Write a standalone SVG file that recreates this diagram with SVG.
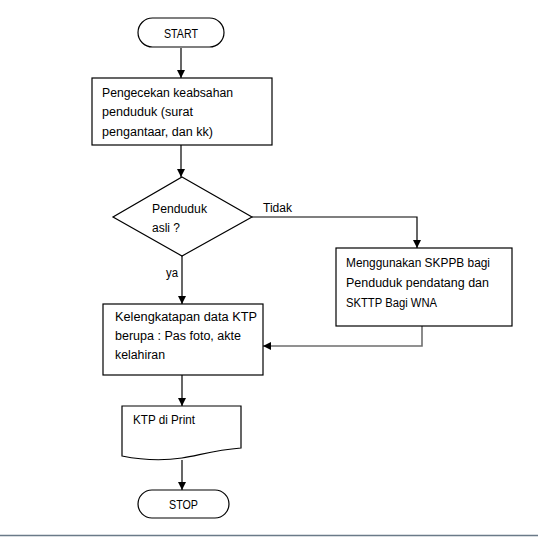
<svg xmlns="http://www.w3.org/2000/svg" width="538" height="538" viewBox="0 0 538 538">
<defs>
<style>
.shape{fill:#fff;stroke:#000;stroke-width:1.2}
.conn{fill:none;stroke:#000;stroke-width:1.2}
.gray{stroke:#6e6e6e;stroke-width:1.6}
text{font-family:"Liberation Sans",Arial,sans-serif;font-size:12.5px;fill:#000}
</style>
<marker id="ah" viewBox="0 0 10 10" refX="10" refY="5" markerWidth="8" markerHeight="8" markerUnits="userSpaceOnUse" orient="auto">
<path d="M0,0 L10,5 L0,10 Z" fill="#000"/>
</marker>
</defs>
<rect width="538" height="538" fill="#fff"/>
<line x1="0" y1="535.5" x2="538" y2="535.5" stroke="#6a7a88" stroke-width="1.5"/>
<g id="connectors">
<line class="conn" x1="181" y1="48" x2="181" y2="78" marker-end="url(#ah)"/>
<line class="conn" x1="181" y1="145" x2="181" y2="177" marker-end="url(#ah)"/>
<polyline class="conn" points="252,217 417,217 417,248" marker-end="url(#ah)"/>
<line class="conn" x1="182" y1="256" x2="182" y2="304" marker-end="url(#ah)"/>
<polyline class="conn gray" points="422,326 422,346 263,346" marker-end="url(#ah)"/>
<line class="conn" x1="182" y1="375" x2="182" y2="406" marker-end="url(#ah)"/>
<line class="conn" x1="182" y1="460" x2="182" y2="490" marker-end="url(#ah)"/>
<text x="263" y="212" textLength="29" lengthAdjust="spacingAndGlyphs">Tidak</text>
<text x="166" y="277" textLength="12" lengthAdjust="spacingAndGlyphs">ya</text>
</g>
<g id="start">
<rect class="shape" x="138" y="18" width="86" height="29" rx="14.5"/>
<text x="181" y="37.5" text-anchor="middle" textLength="34" lengthAdjust="spacingAndGlyphs">START</text>
</g>
<g id="cek">
<rect class="shape" x="92" y="78" width="180" height="67"/>
<text x="102" y="97" textLength="131" lengthAdjust="spacingAndGlyphs">Pengecekan keabsahan</text>
<text x="102" y="116" textLength="91" lengthAdjust="spacingAndGlyphs">penduduk (surat</text>
<text x="102" y="136" textLength="111" lengthAdjust="spacingAndGlyphs">pengantaar, dan kk)</text>
</g>
<g id="decision">
<polygon class="shape" points="182,177 252,217 182,256 113,217"/>
<text x="152" y="213" textLength="55" lengthAdjust="spacingAndGlyphs">Penduduk</text>
<text x="152" y="232" textLength="28" lengthAdjust="spacingAndGlyphs">asli ?</text>
</g>
<g id="skppb">
<rect class="shape" x="336" y="248" width="176" height="78"/>
<text x="346" y="267" textLength="144" lengthAdjust="spacingAndGlyphs">Menggunakan SKPPB bagi</text>
<text x="346" y="287" textLength="143" lengthAdjust="spacingAndGlyphs">Penduduk pendatang dan</text>
<text x="346" y="307" textLength="91" lengthAdjust="spacingAndGlyphs">SKTTP Bagi WNA</text>
</g>
<g id="kelengkapan">
<rect class="shape" x="103" y="304" width="160" height="71"/>
<text x="115" y="321" textLength="142" lengthAdjust="spacingAndGlyphs">Kelengkatapan data KTP</text>
<text x="115" y="340" textLength="126" lengthAdjust="spacingAndGlyphs">berupa : Pas foto, akte</text>
<text x="115" y="359" textLength="50" lengthAdjust="spacingAndGlyphs">kelahiran</text>
</g>
<g id="print">
<path class="shape" d="M122,406 H241 V448 C215,450 200,455 182,458 C162,461 142,460 122,456 Z"/>
<text x="133" y="424" textLength="62" lengthAdjust="spacingAndGlyphs">KTP di Print</text>
</g>
<g id="stop">
<rect class="shape" x="138" y="490" width="91" height="28" rx="14"/>
<text x="183.5" y="509" text-anchor="middle" textLength="29" lengthAdjust="spacingAndGlyphs">STOP</text>
</g>
</svg>
